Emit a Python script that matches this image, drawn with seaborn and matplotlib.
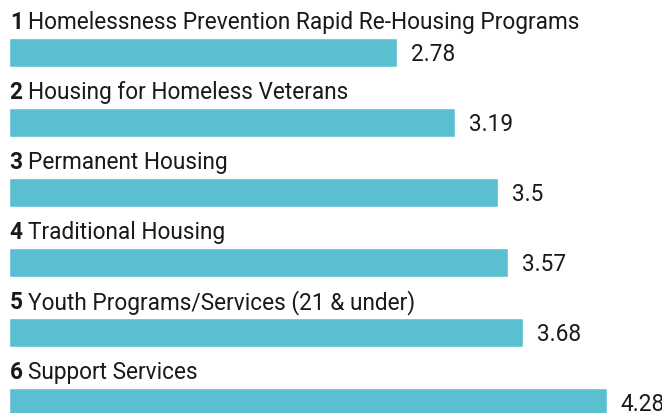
import matplotlib.pyplot as plt
import seaborn as sns
import pandas as pd

ranks = ['1', '2', '3', '4', '5', '6']
programs = ['Homelessness Prevention Rapid Re-Housing Programs',
            'Housing for Homeless Veterans',
            'Permanent Housing',
            'Traditional Housing',
            'Youth Programs/Services (21 & under)',
            'Support Services']
scores = [2.78, 3.19, 3.5, 3.57, 3.68, 4.28]

df = pd.DataFrame({'program': programs, 'score': scores})

sns.set_theme(style='white')
plt.rcParams['font.family'] = ['Roboto', 'DejaVu Sans']

fig = plt.figure(figsize=(6.62, 4.14), dpi=100)
ax = fig.add_axes([9 / 662, 0, 1 - 9 / 662, 1])

sns.barplot(data=df, x='score', y='program', orient='h', color='#5bbfd2',
            saturation=1, width=0.414, ax=ax)

ax.set_xlim(0, 653 / 139.7)
ax.set_ylim(5.15, -0.764)

renderer = fig.canvas.get_renderer()
for i, (r, p, s) in enumerate(zip(ranks, programs, scores)):
    t = ax.text(0.005, i - 0.35, r, fontsize=16.3, fontweight='bold',
                color='#1a1a1a', va='baseline', ha='left')
    w = t.get_window_extent(renderer).width
    # label text starts right after the bold rank, plus a space
    ax.annotate(p, xy=(0.005, i - 0.35), xycoords='data', fontsize=16.3,
                color='#1a1a1a', va='baseline', ha='left',
                xytext=((w + 5) * 0.72, 0), textcoords='offset points')
    ax.annotate(f'{s:g}', xy=(s, i + 8 / 70), xytext=(14 * 0.72, 0),
                textcoords='offset points', fontsize=16.3, color='#1a1a1a',
                va='baseline', ha='left', annotation_clip=False)

ax.axis('off')
fig.savefig('out.png', dpi=100)
